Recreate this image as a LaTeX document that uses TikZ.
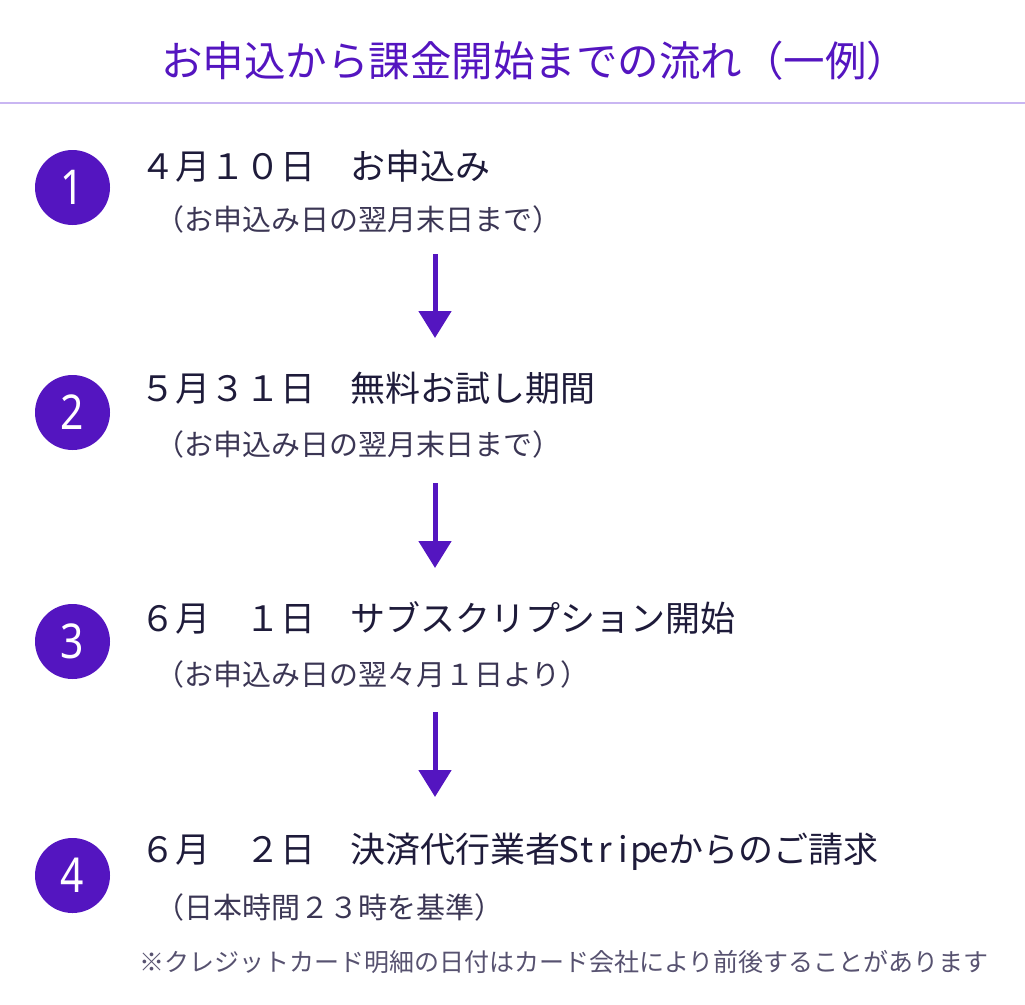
\documentclass[tikz,border=0pt]{standalone}
\usepackage{fontspec}
\usetikzlibrary{arrows.meta}
\newfontfamily\jp{Noto Sans CJK JP}
\newfontfamily\numfont[FakeStretch=0.85]{Noto Sans}
\definecolor{pc}{HTML}{5415C0}
\definecolor{rulec}{HTML}{C9B6F2}
\definecolor{maintext}{HTML}{1E1B3A}
\definecolor{subtext}{HTML}{3B3654}
\definecolor{notetext}{HTML}{575270}
\newcommand\hwl[1]{\makebox[18pt]{#1}}
\tikzset{
  circ/.style={circle, fill=pc, minimum size=75pt, inner sep=0pt, text=white, font=\numfont\fontsize{48}{48}\selectfont},
  titletext/.style={anchor=base west, inner sep=0pt, text=pc, font=\jp\fontsize{41.5}{41.5}\selectfont},
  maintxt/.style={anchor=base west, inner sep=0pt, text=maintext, font=\jp\fontsize{35}{35}\selectfont},
  subtxt/.style={anchor=base west, inner sep=0pt, text=subtext, font=\jp\fontsize{29}{29}\selectfont},
  notetxt/.style={anchor=base west, inner sep=0pt, text=notetext, font=\jp\fontsize{25}{25}\selectfont},
  arr/.style={line width=5pt, draw=pc, -{Triangle[width=32pt,length=27pt]}}
}
\begin{document}
\begin{tikzpicture}[x=1pt,y=-1pt]
\useasboundingbox (0,0) rectangle (1025,1004);
% title
\node[titletext] (title) at (161,76) {お申込から課金開始までの流れ（一例）};
\coordinate (rl) at (0,103);
\coordinate (rr) at (1025,103);
\draw[rulec, line width=2pt] (rl) -- (rr);
% step 1
\node[circ] (c1) at (72.5,187.5) {1};
\node[maintxt] (m1) at (140,179) {４月１０日　お申込み};
\node[subtxt] (s1) at (155,230) {（お申込み日の翌月末日まで）};
% step 2
\node[circ] (c2) at (72.5,412.5) {2};
\node[maintxt] (m2) at (140,401) {５月３１日　無料お試し期間};
\node[subtxt] (s2) at (155,455) {（お申込み日の翌月末日まで）};
% step 3
\node[circ] (c3) at (72.5,641.5) {3};
\node[maintxt] (m3) at (140,631) {６月　１日　サブスクリプション開始};
\node[subtxt] (s3) at (155,685) {（お申込み日の翌々月１日より）};
% step 4
\node[circ] (c4) at (72.5,875.5) {4};
\node[maintxt] (m4) at (140,862) {６月　２日　決済代行業者\hwl{S}\hwl{t}\hwl{r}\hwl{i}\hwl{p}\hwl{e}からのご請求};
\node[subtxt] (s4) at (155,918) {（日本時間２３時を基準）};
% note
\node[notetxt] (note) at (139,971) {※クレジットカード明細の日付はカード会社により前後することがあります};
% arrows
\coordinate (a1s) at (435,254);
\coordinate (a1e) at (435,338);
\coordinate (a2s) at (435,483);
\coordinate (a2e) at (435,568);
\coordinate (a3s) at (435,712);
\coordinate (a3e) at (435,797);
\draw[arr] (a1s) -- (a1e);
\draw[arr] (a2s) -- (a2e);
\draw[arr] (a3s) -- (a3e);
\end{tikzpicture}
\end{document}
